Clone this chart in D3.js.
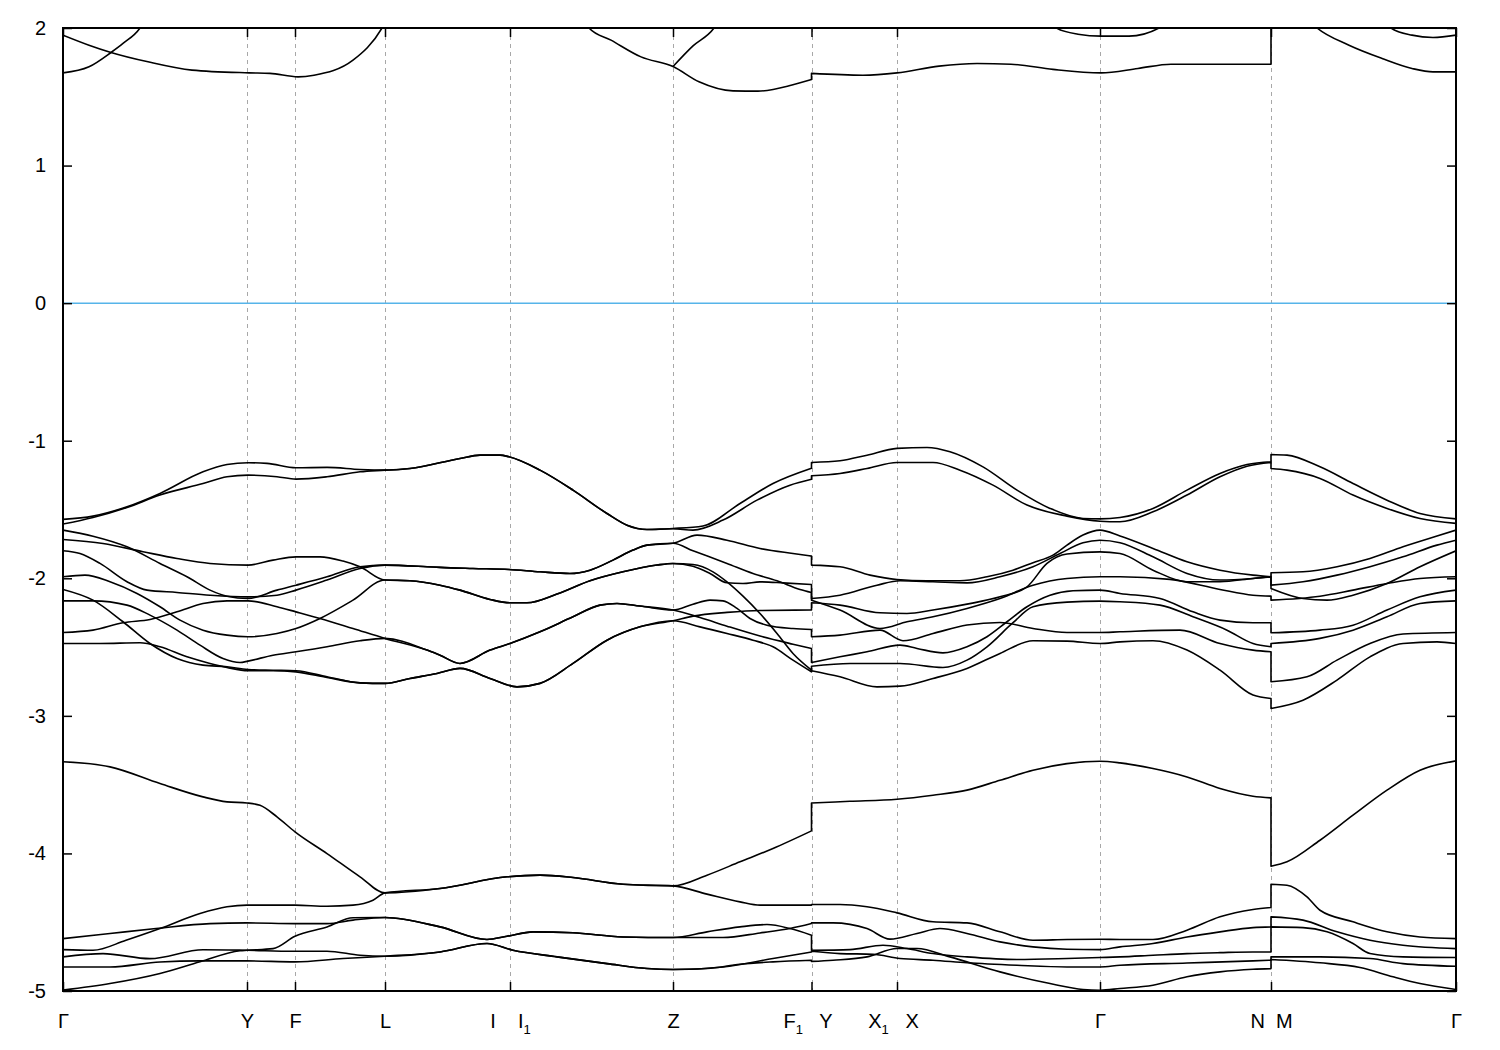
<!DOCTYPE html>
<html><head><meta charset="utf-8">
<script src="https://cdn.jsdelivr.net/npm/d3@7"></script>
<style>body{margin:0;background:#fff}text{font-family:"Liberation Sans",Arial,sans-serif}</style>
</head><body>
<svg id="chart" width="1500" height="1050"></svg>
<script>
// ---------- axis data ----------
const kTicks = [0,1.84,2.32,3.22,4.47,6.10,7.485,8.34,10.37,12.08,13.93];
const kLabels = ["Γ","Y","F","L","I    I_1","Z","F_1   Y","X_1   X","Γ","N  M","Γ"];
const yTicks = [-5,-4,-3,-2,-1,0,1,2];
const fermiLevel = 0;

// ---------- conduction bands (above 1.5 eV) ----------
const top1 = [[0,1.674],[0.26,1.718],[0.48,1.822],[0.60,1.888],[0.77,2.0],[0.85,2.1]];
const top2 = [[0,1.948],[0.26,1.875],[0.48,1.822],[0.85,1.754],[1.29,1.694],[1.86,1.674],[2.07,1.670],[2.35,1.645],[2.51,1.657],[2.90,1.766],[3.19,2.0],[3.25,2.08]];
const top3 = [[5.18,2.08],[5.26,2.0],[5.48,1.912],[5.78,1.790],[6.10,1.72],[6.36,1.609],[6.70,1.543],[6.95,1.541],[7.29,1.585],[7.485,1.625],[7.485,1.670],[8.00,1.657],[8.34,1.674],[8.76,1.723],[9.14,1.742],[9.48,1.737],[9.90,1.699],[10.38,1.674],[10.75,1.706],[11.08,1.737],[11.59,1.737],[12.08,1.737],[12.08,2.1]];
const top4 = [[6.10,1.72],[6.30,1.87],[6.51,2.0],[6.58,2.08]];
const top5 = [[9.86,2.05],[9.94,1.997],[10.15,1.955],[10.38,1.941],[10.66,1.941],[10.96,2.0],[11.04,2.05]];
const top6 = [[12.45,2.06],[12.54,2.0],[12.86,1.875],[13.19,1.779],[13.49,1.706],[13.70,1.681],[13.93,1.681]];
const top7 = [[13.20,2.06],[13.28,2.0],[13.49,1.948],[13.70,1.931],[13.93,1.948]];

// ---------- valence bands ----------
const b1 = [[0,-1.572],[0.30,-1.548],[0.64,-1.480],[0.97,-1.383],[1.40,-1.226],[1.64,-1.173],[1.85,-1.160],[2.04,-1.165],[2.33,-1.197],[2.64,-1.194],[2.97,-1.209],[3.22,-1.214],[3.47,-1.202],[3.97,-1.129],[4.17,-1.105],[4.37,-1.105],[4.46,-1.117],[4.77,-1.214],[5.10,-1.359],[5.44,-1.529],[5.64,-1.614],[5.84,-1.645],[6.10,-1.638],[6.40,-1.620],[6.77,-1.456],[7.10,-1.311],[7.485,-1.200],[7.485,-1.158],[7.77,-1.146],[8.04,-1.105],[8.34,-1.056],[8.64,-1.049],[8.87,-1.080],[9.20,-1.190],[9.54,-1.359],[9.87,-1.492],[10.20,-1.565],[10.37,-1.568],[10.57,-1.558],[10.90,-1.492],[11.24,-1.359],[11.57,-1.238],[11.84,-1.173],[12.08,-1.153],[12.08,-1.100],[12.24,-1.105],[12.57,-1.190],[12.90,-1.311],[13.24,-1.432],[13.57,-1.529],[13.93,-1.568]];
const b2 = [[0,-1.606],[0.30,-1.558],[0.64,-1.485],[0.97,-1.395],[1.40,-1.311],[1.64,-1.262],[1.85,-1.250],[2.14,-1.262],[2.33,-1.279],[2.64,-1.262],[2.97,-1.226],[3.22,-1.214],[3.47,-1.202],[3.97,-1.129],[4.17,-1.105],[4.37,-1.105],[4.46,-1.117],[4.77,-1.214],[5.10,-1.359],[5.44,-1.529],[5.64,-1.614],[5.84,-1.645],[6.10,-1.640],[6.30,-1.650],[6.60,-1.577],[6.94,-1.432],[7.27,-1.323],[7.485,-1.280],[7.485,-1.255],[7.77,-1.238],[8.04,-1.202],[8.34,-1.158],[8.70,-1.158],[8.97,-1.214],[9.30,-1.323],[9.64,-1.468],[10.04,-1.548],[10.37,-1.585],[10.57,-1.589],[10.90,-1.517],[11.24,-1.395],[11.57,-1.262],[11.84,-1.185],[12.08,-1.158],[12.08,-1.202],[12.24,-1.214],[12.57,-1.274],[12.90,-1.395],[13.24,-1.492],[13.57,-1.565],[13.93,-1.601]];

const m1 = [[0,-1.650],[0.30,-1.694],[0.64,-1.771],[0.97,-1.892],[1.24,-1.989],[1.47,-2.086],[1.64,-2.130],[1.85,-2.147],[2.14,-2.086],[2.33,-2.050],[2.64,-1.989],[2.97,-1.916],[3.22,-1.904],[3.64,-1.916],[3.77,-1.921],[4.10,-1.929],[4.46,-1.936],[4.77,-1.953],[5.07,-1.965],[5.27,-1.941],[5.50,-1.868],[5.70,-1.795],[5.84,-1.759],[6.10,-1.745],[6.34,-1.686],[6.64,-1.723],[6.97,-1.783],[7.30,-1.820],[7.485,-1.839],[7.485,-1.904],[7.77,-1.916],[8.07,-1.977],[8.34,-2.009],[8.64,-2.018],[8.97,-2.018],[9.24,-1.989],[9.50,-1.941],[9.70,-1.887],[9.90,-1.832],[10.04,-1.759],[10.20,-1.686],[10.37,-1.650],[10.57,-1.693],[10.90,-1.783],[11.24,-1.880],[11.57,-1.941],[11.90,-1.977],[12.08,-1.989],[12.08,-1.960],[12.40,-1.953],[12.74,-1.916],[13.07,-1.856],[13.40,-1.771],[13.74,-1.693],[13.93,-1.650]];
const m2 = [[0,-1.800],[0.17,-1.820],[0.37,-1.892],[0.64,-2.025],[0.84,-2.086],[1.14,-2.103],[1.47,-2.123],[1.85,-2.135],[2.14,-2.123],[2.33,-2.086],[2.64,-2.013],[2.97,-1.929],[3.22,-1.904],[3.64,-1.916],[3.77,-1.921],[4.10,-1.929],[4.46,-1.936],[4.77,-1.953],[5.07,-1.965],[5.27,-1.941],[5.50,-1.868],[5.70,-1.795],[5.84,-1.759],[6.10,-1.745],[6.30,-1.800],[6.64,-1.892],[6.90,-1.965],[7.14,-2.018],[7.37,-2.081],[7.485,-2.103],[7.485,-2.159],[7.77,-2.231],[8.17,-2.365],[8.44,-2.316],[8.70,-2.280],[9.04,-2.219],[9.37,-2.147],[9.70,-2.050],[10.04,-2.001],[10.37,-1.989],[10.57,-1.989],[11.07,-2.008],[11.57,-2.081],[11.90,-2.123],[12.08,-2.130],[12.08,-2.159],[12.57,-2.130],[12.90,-2.086],[13.24,-2.038],[13.57,-2.001],[13.93,-1.989]];
const m3 = [[0,-1.718],[0.40,-1.747],[0.80,-1.807],[1.14,-1.856],[1.47,-1.892],[1.85,-1.904],[2.10,-1.868],[2.33,-1.844],[2.57,-1.844],[2.80,-1.875],[2.97,-1.916],[3.22,-2.013],[3.47,-2.018],[3.77,-2.050],[3.97,-2.086],[4.27,-2.154],[4.47,-2.178],[4.64,-2.178],[4.94,-2.115],[5.27,-2.018],[5.60,-1.953],[5.94,-1.904],[6.10,-1.892],[6.30,-1.912],[6.47,-1.965],[6.64,-2.033],[6.80,-2.038],[6.97,-2.026],[7.20,-2.033],[7.485,-2.045],[7.485,-2.147],[7.77,-2.123],[8.14,-2.050],[8.37,-2.018],[8.70,-2.025],[9.04,-2.033],[9.37,-1.989],[9.70,-1.916],[9.97,-1.820],[10.20,-1.742],[10.37,-1.723],[10.57,-1.741],[10.90,-1.844],[11.24,-1.965],[11.57,-2.013],[11.90,-2.001],[12.08,-1.989],[12.08,-2.050],[12.40,-2.025],[12.74,-1.977],[13.07,-1.916],[13.40,-1.844],[13.74,-1.759],[13.93,-1.723]];
const m4 = [[0,-1.989],[0.22,-1.977],[0.47,-2.025],[0.74,-2.110],[0.97,-2.207],[1.17,-2.304],[1.40,-2.377],[1.64,-2.413],[1.85,-2.425],[2.14,-2.401],[2.33,-2.365],[2.57,-2.292],[2.90,-2.159],[3.22,-2.013],[3.47,-2.018],[3.77,-2.050],[3.97,-2.086],[4.27,-2.154],[4.47,-2.178],[4.64,-2.178],[4.94,-2.115],[5.27,-2.018],[5.60,-1.953],[5.94,-1.904],[6.10,-1.892],[6.30,-1.900],[6.50,-1.953],[6.64,-2.026],[6.80,-2.130],[6.97,-2.256],[7.14,-2.401],[7.30,-2.547],[7.485,-2.668],[7.485,-2.639],[7.87,-2.619],[8.37,-2.619],[8.80,-2.648],[9.04,-2.595],[9.24,-2.498],[9.50,-2.323],[9.70,-2.207],[10.04,-2.173],[10.37,-2.166],[10.57,-2.171],[10.97,-2.195],[11.30,-2.280],[11.64,-2.377],[11.90,-2.474],[12.08,-2.498],[12.08,-2.474],[12.57,-2.437],[12.90,-2.377],[13.24,-2.280],[13.57,-2.183],[13.93,-2.164]];
const m5 = [[0,-2.164],[0.30,-2.164],[0.64,-2.195],[0.87,-2.268],[1.14,-2.377],[1.37,-2.486],[1.60,-2.583],[1.77,-2.612],[1.85,-2.602],[2.10,-2.559],[2.33,-2.534],[2.64,-2.498],[2.97,-2.454],[3.22,-2.437],[3.64,-2.522],[3.77,-2.559],[3.97,-2.619],[4.27,-2.522],[4.47,-2.474],[4.77,-2.389],[5.10,-2.280],[5.37,-2.195],[5.54,-2.183],[5.77,-2.202],[6.10,-2.231],[6.30,-2.188],[6.47,-2.159],[6.60,-2.164],[6.74,-2.219],[6.87,-2.292],[7.04,-2.341],[7.30,-2.365],[7.485,-2.372],[7.485,-2.425],[7.77,-2.413],[8.17,-2.377],[8.40,-2.454],[8.70,-2.401],[9.04,-2.340],[9.37,-2.321],[9.70,-2.365],[10.04,-2.394],[10.37,-2.394],[10.57,-2.389],[11.17,-2.377],[11.57,-2.474],[11.90,-2.522],[12.08,-2.534],[12.08,-2.752],[12.44,-2.716],[12.74,-2.595],[13.07,-2.474],[13.40,-2.405],[13.93,-2.394]];
const m6 = [[0,-2.394],[0.30,-2.377],[0.60,-2.323],[0.87,-2.299],[1.14,-2.244],[1.40,-2.183],[1.64,-2.164],[1.85,-2.164],[2.14,-2.207],[2.33,-2.244],[2.57,-2.292],[2.90,-2.365],[3.22,-2.437],[3.64,-2.522],[3.77,-2.559],[3.97,-2.619],[4.27,-2.522],[4.47,-2.474],[4.77,-2.389],[5.10,-2.280],[5.37,-2.195],[5.54,-2.183],[5.77,-2.202],[6.10,-2.231],[6.37,-2.285],[6.64,-2.348],[6.97,-2.420],[7.30,-2.479],[7.485,-2.510],[7.485,-2.612],[7.77,-2.571],[8.04,-2.534],[8.37,-2.486],[8.54,-2.510],[8.80,-2.542],[9.04,-2.498],[9.24,-2.425],[9.44,-2.316],[9.64,-2.207],[9.87,-2.123],[10.10,-2.091],[10.37,-2.086],[10.57,-2.110],[10.97,-2.147],[11.30,-2.244],[11.57,-2.304],[11.90,-2.323],[12.08,-2.323],[12.08,-2.396],[12.57,-2.377],[12.90,-2.341],[13.24,-2.231],[13.57,-2.135],[13.93,-2.086]];
const m7 = [[0,-2.081],[0.30,-2.159],[0.60,-2.316],[0.87,-2.474],[1.14,-2.583],[1.40,-2.631],[1.64,-2.643],[1.85,-2.663],[2.10,-2.668],[2.33,-2.672],[2.64,-2.716],[2.97,-2.760],[3.22,-2.764],[3.47,-2.728],[3.74,-2.692],[3.97,-2.655],[4.27,-2.728],[4.54,-2.789],[4.77,-2.764],[5.10,-2.619],[5.44,-2.450],[5.77,-2.353],[6.10,-2.309],[6.30,-2.275],[6.64,-2.248],[6.97,-2.234],[7.485,-2.231],[7.485,-2.178],[7.77,-2.195],[8.17,-2.251],[8.44,-2.256],[8.70,-2.231],[9.04,-2.188],[9.37,-2.135],[9.64,-2.062],[9.84,-1.892],[10.04,-1.824],[10.37,-1.808],[10.57,-1.820],[10.90,-1.941],[11.24,-2.025],[11.57,-2.025],[11.90,-2.001],[12.08,-1.989],[12.08,-2.074],[12.40,-2.147],[12.64,-2.159],[12.90,-2.123],[13.24,-2.038],[13.57,-1.916],[13.93,-1.800]];
const m8 = [[0,-2.474],[0.37,-2.474],[0.77,-2.469],[0.97,-2.498],[1.24,-2.571],[1.47,-2.619],[1.64,-2.648],[1.85,-2.672],[2.10,-2.672],[2.33,-2.680],[2.64,-2.721],[2.97,-2.760],[3.22,-2.764],[3.47,-2.728],[3.74,-2.692],[3.97,-2.655],[4.27,-2.728],[4.54,-2.789],[4.77,-2.764],[5.10,-2.619],[5.44,-2.450],[5.77,-2.353],[6.10,-2.309],[6.37,-2.353],[6.64,-2.401],[6.90,-2.450],[7.10,-2.498],[7.30,-2.595],[7.485,-2.680],[7.485,-2.672],[7.77,-2.716],[8.14,-2.789],[8.37,-2.784],[8.70,-2.728],[9.04,-2.655],[9.37,-2.546],[9.70,-2.454],[10.04,-2.457],[10.37,-2.474],[10.57,-2.462],[10.90,-2.454],[11.24,-2.522],[11.57,-2.668],[11.90,-2.849],[12.08,-2.874],[12.08,-2.946],[12.40,-2.886],[12.74,-2.740],[13.07,-2.571],[13.40,-2.474],[13.74,-2.462],[13.93,-2.474]];

const bandD = [[0,-3.334],[0.47,-3.371],[0.97,-3.492],[1.40,-3.589],[1.64,-3.625],[1.84,-3.633],[1.97,-3.650],[2.14,-3.734],[2.32,-3.843],[2.64,-4.001],[2.97,-4.170],[3.22,-4.287],[3.77,-4.255],[4.44,-4.170],[4.77,-4.158],[5.10,-4.175],[5.60,-4.224],[6.10,-4.236],[6.44,-4.158],[6.77,-4.061],[7.10,-3.964],[7.485,-3.836],[7.485,-3.633],[7.87,-3.621],[8.34,-3.606],[8.70,-3.577],[9.04,-3.540],[9.37,-3.468],[9.70,-3.395],[10.04,-3.347],[10.37,-3.330],[10.57,-3.342],[10.90,-3.383],[11.24,-3.444],[11.57,-3.528],[11.90,-3.584],[12.08,-3.596],[12.08,-4.093],[12.24,-4.061],[12.57,-3.904],[12.90,-3.722],[13.24,-3.540],[13.57,-3.395],[13.93,-3.327]];
const lowA = [[0,-4.699],[0.30,-4.704],[0.63,-4.631],[0.97,-4.546],[1.37,-4.437],[1.64,-4.388],[1.84,-4.376],[2.32,-4.376],[2.64,-4.384],[2.90,-4.376],[3.10,-4.340],[3.22,-4.287],[3.77,-4.255],[4.44,-4.170],[4.77,-4.158],[5.10,-4.175],[5.60,-4.224],[6.10,-4.236],[6.44,-4.296],[6.77,-4.352],[6.97,-4.376],[7.485,-4.376],[7.485,-4.371],[7.77,-4.371],[8.04,-4.388],[8.34,-4.432],[8.70,-4.497],[9.04,-4.505],[9.37,-4.570],[9.70,-4.631],[10.04,-4.626],[10.37,-4.624],[10.57,-4.626],[10.90,-4.626],[11.24,-4.558],[11.57,-4.461],[11.90,-4.408],[12.08,-4.393],[12.08,-4.224],[12.24,-4.231],[12.44,-4.316],[12.57,-4.413],[12.90,-4.497],[13.24,-4.570],[13.57,-4.607],[13.93,-4.619]];
const lowB = [[0,-4.619],[0.47,-4.582],[0.93,-4.546],[1.47,-4.510],[1.84,-4.505],[2.32,-4.510],[2.64,-4.510],[2.90,-4.485],[3.22,-4.466],[3.77,-4.534],[4.24,-4.626],[4.44,-4.602],[4.70,-4.570],[5.10,-4.577],[5.60,-4.607],[6.10,-4.611],[6.60,-4.611],[6.97,-4.578],[7.27,-4.546],[7.485,-4.510],[7.485,-4.505],[7.70,-4.505],[8.04,-4.546],[8.27,-4.623],[8.54,-4.582],[8.77,-4.546],[9.04,-4.582],[9.37,-4.643],[9.70,-4.679],[10.04,-4.696],[10.37,-4.699],[10.57,-4.679],[10.90,-4.655],[11.24,-4.607],[11.57,-4.570],[11.90,-4.539],[12.08,-4.534],[12.08,-4.461],[12.40,-4.485],[12.74,-4.570],[13.07,-4.631],[13.40,-4.667],[13.93,-4.692]];
const lowC = [[0,-4.994],[0.47,-4.946],[0.97,-4.873],[1.37,-4.788],[1.77,-4.708],[1.84,-4.704],[2.10,-4.692],[2.32,-4.602],[2.64,-4.534],[2.90,-4.468],[3.22,-4.466],[3.77,-4.534],[4.24,-4.626],[4.44,-4.602],[4.70,-4.570],[5.10,-4.577],[5.60,-4.607],[6.10,-4.611],[6.44,-4.570],[6.77,-4.534],[7.04,-4.517],[7.27,-4.546],[7.485,-4.594],[7.485,-4.704],[7.87,-4.699],[8.20,-4.667],[8.44,-4.691],[8.70,-4.728],[9.04,-4.752],[9.54,-4.771],[10.04,-4.764],[10.37,-4.757],[10.57,-4.752],[10.90,-4.740],[11.24,-4.728],[11.57,-4.721],[11.90,-4.716],[12.08,-4.716],[12.08,-4.534],[12.40,-4.539],[12.64,-4.570],[12.90,-4.655],[13.07,-4.728],[13.40,-4.752],[13.93,-4.757]];
const lowD = [[0,-4.752],[0.40,-4.728],[0.87,-4.765],[1.40,-4.700],[1.84,-4.704],[2.30,-4.711],[2.64,-4.711],[2.97,-4.740],[3.22,-4.747],[3.77,-4.716],[4.24,-4.655],[4.50,-4.704],[4.94,-4.752],[5.44,-4.801],[5.84,-4.837],[6.10,-4.844],[6.60,-4.825],[7.10,-4.764],[7.485,-4.716],[7.485,-4.711],[7.77,-4.728],[8.10,-4.733],[8.37,-4.764],[8.70,-4.776],[9.04,-4.795],[9.54,-4.813],[10.04,-4.825],[10.37,-4.825],[10.57,-4.813],[11.24,-4.797],[11.90,-4.781],[12.08,-4.776],[12.08,-4.752],[12.57,-4.752],[13.07,-4.764],[13.40,-4.801],[13.93,-4.820]];
const lowE = [[0,-4.825],[0.47,-4.825],[0.97,-4.789],[1.37,-4.781],[1.84,-4.781],[2.32,-4.788],[2.80,-4.764],[3.22,-4.747],[3.77,-4.716],[4.24,-4.655],[4.50,-4.704],[4.94,-4.752],[5.44,-4.801],[5.84,-4.837],[6.10,-4.844],[6.44,-4.837],[6.77,-4.805],[7.10,-4.788],[7.485,-4.776],[7.485,-4.785],[7.70,-4.776],[8.04,-4.752],[8.34,-4.691],[8.54,-4.691],[8.87,-4.752],[9.37,-4.861],[9.87,-4.946],[10.20,-4.989],[10.37,-4.994],[10.57,-4.982],[10.90,-4.958],[11.24,-4.897],[11.57,-4.861],[11.90,-4.842],[12.08,-4.837],[12.08,-4.771],[12.57,-4.795],[12.97,-4.829],[13.30,-4.897],[13.57,-4.946],[13.93,-4.989]];

const bands = [top1,top2,top3,top4,top5,top6,top7,b1,b2,m1,m2,m3,m4,m5,m6,m7,m8,bandD,lowA,lowB,lowC,lowD,lowE];

// ---------- drawing ----------
const L = 63, R = 1456, T = 28, B = 991;
const svg = d3.select('#chart');
const x = d3.scaleLinear().domain([kTicks[0], kTicks[kTicks.length-1]]).range([L, R]);
const y = d3.scaleLinear().domain([-5, 2]).range([B, T]);

svg.append('defs').append('clipPath').attr('id','clip')
  .append('rect').attr('x',L).attr('y',T).attr('width',R-L).attr('height',B-T);

// dashed vertical lines at high-symmetry points
svg.append('g').selectAll('line').data(kTicks.slice(1,-1)).join('line')
  .attr('x1',d=>Math.round(x(d))+0.5).attr('x2',d=>Math.round(x(d))+0.5)
  .attr('y1',T).attr('y2',B)
  .attr('stroke','#a8a8a8').attr('stroke-width',1).attr('stroke-dasharray','4,4');

// Fermi level
svg.append('line').attr('x1',L).attr('x2',R).attr('y1',y(fermiLevel)).attr('y2',y(fermiLevel))
  .attr('stroke','#56b4e9').attr('stroke-width',1.5);

// bands
const lineGen = d3.line().x(d=>x(d[0])).y(d=>y(d[1])).curve(d3.curveMonotoneX);
function bandPath(pts){
  const runs = []; let cur = [pts[0]];
  for (let i=1;i<pts.length;i++){
    if (pts[i][0] === pts[i-1][0]) { runs.push(cur); cur = [pts[i]]; }
    else cur.push(pts[i]);
  }
  runs.push(cur);
  return runs.map((r,i)=>{
    const p = r.length>1 ? lineGen(r) : `M${x(r[0][0])},${y(r[0][1])}`;
    return i===0 ? p : 'L' + p.slice(1);
  }).join('');
}
svg.append('g').attr('clip-path','url(#clip)').selectAll('path').data(bands).join('path')
  .attr('d', bandPath).attr('fill','none').attr('stroke','#000').attr('stroke-width',1.6)
  .attr('stroke-linejoin','round');

// axes
const fs = 20;
const yLeft = svg.append('g').attr('transform',`translate(${L},0)`)
  .call(d3.axisLeft(y).tickValues(yTicks).tickSize(-9).tickPadding(17).tickFormat(d=>String(d)));
const yRight = svg.append('g').attr('transform',`translate(${R},0)`)
  .call(d3.axisRight(y).tickValues(yTicks).tickSize(-9).tickFormat(''));
const xBottom = svg.append('g').attr('transform',`translate(0,${B})`)
  .call(d3.axisBottom(x).tickValues(kTicks).tickSize(-9).tickPadding(22).tickFormat(()=>''));
const xTop = svg.append('g').attr('transform',`translate(0,${T})`)
  .call(d3.axisTop(x).tickValues(kTicks).tickSize(-9).tickFormat(''));
[yLeft,yRight,xBottom,xTop].forEach(g=>{
  g.select('.domain').remove();
  g.selectAll('.tick line').attr('stroke','#000').attr('stroke-width',1.5);
});
yLeft.selectAll('text').attr('font-size',fs).attr('fill','#000')
  .attr('font-family','"Liberation Sans",Arial,sans-serif');

// x tick labels with subscripts (labels carrying a subscript sit slightly left, as in gnuplot)
xBottom.selectAll('.tick text').each(function(d,i){
  const hasSub = kLabels[i].indexOf('_') >= 0 && kLabels[i][0] !== 'I';
  const t = d3.select(this).text(null)
    .attr('font-size',fs).attr('fill','#000').attr('y',null).attr('dy',null)
    .attr('transform',`translate(${hasSub ? -4 : 0},37)`)
    .style('white-space','pre')
    .attr('font-family','"Liberation Sans",Arial,sans-serif');
  const parts = kLabels[i].split(/(_\d)/);
  let sub = false;
  parts.forEach(p=>{
    if (!p) return;
    if (p[0]==='_') {
      t.append('tspan').attr('font-size',13).attr('dy',6).text(p.slice(1));
      sub = true;
    } else {
      t.append('tspan').attr('dy', sub ? -6 : 0).text(p);
      sub = false;
    }
  });
});

// frame
svg.append('rect').attr('x',L).attr('y',T).attr('width',R-L).attr('height',B-T)
  .attr('fill','none').attr('stroke','#000').attr('stroke-width',2);
</script>
</body></html>
